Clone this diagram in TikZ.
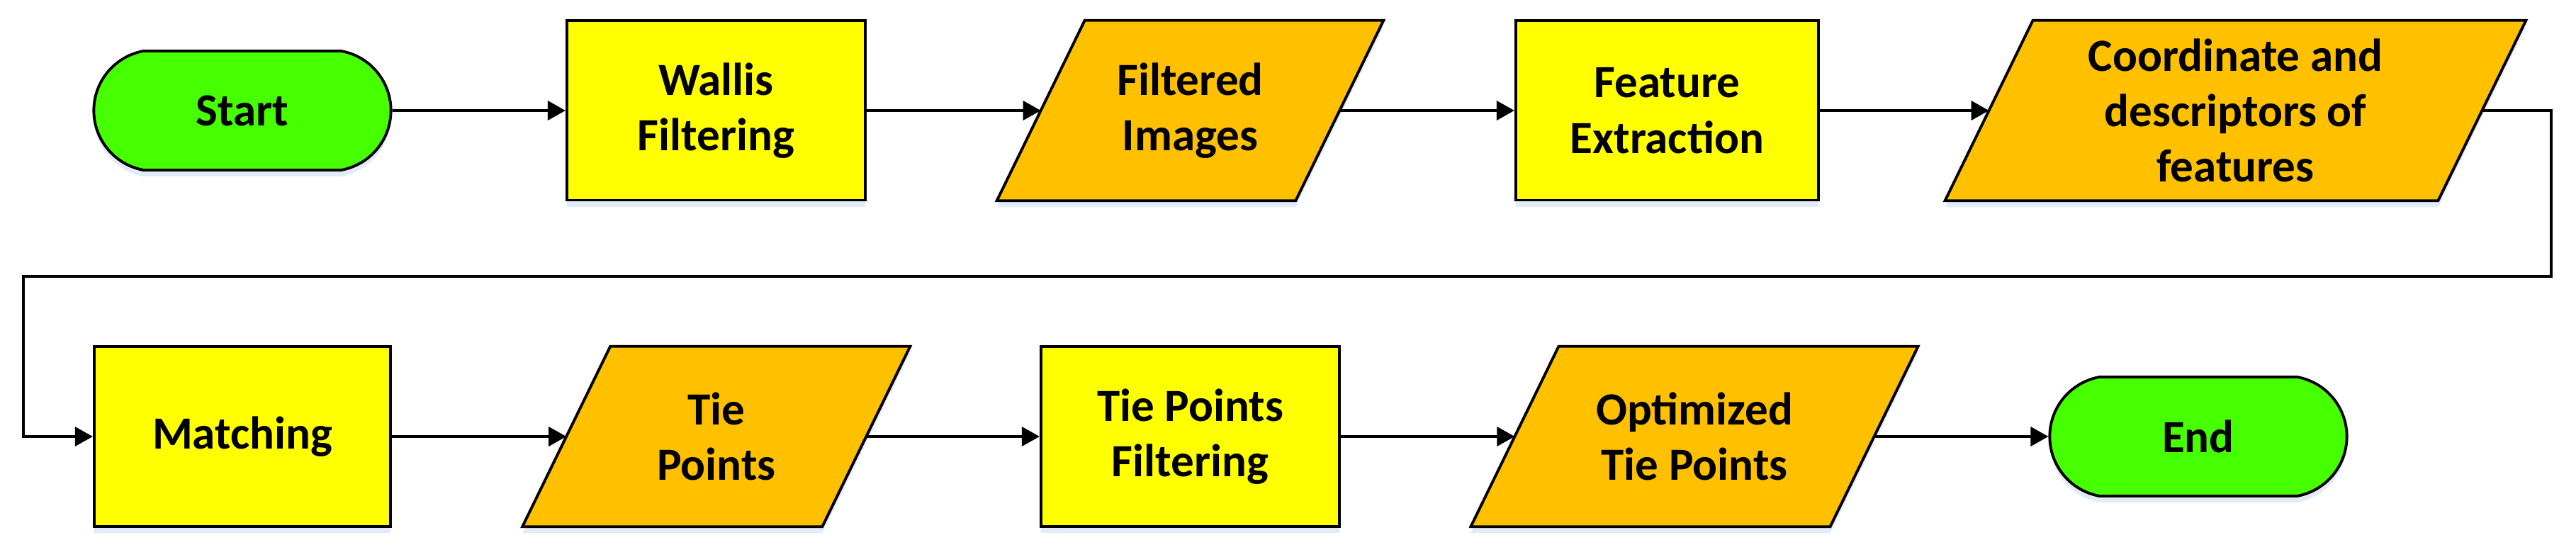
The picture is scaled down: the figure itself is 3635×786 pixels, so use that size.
\documentclass[tikz,border=0pt]{standalone}
\usepackage{fontspec}
\setmainfont{Carlito}
\usetikzlibrary{shapes.misc,arrows.meta,shadows,backgrounds}
\definecolor{termgreen}{RGB}{70,255,0}
\definecolor{procyellow}{RGB}{255,255,0}
\definecolor{dataorange}{RGB}{255,192,0}
\definecolor{shadowblue}{RGB}{170,200,235}
\tikzset{
  base/.style={inner sep=0pt, align=center, font=\bfseries\fontsize{18.5}{22.3}\selectfont},
  softshadow/.style={drop shadow={shadow xshift=0cm, shadow yshift=-0.09cm, fill=shadowblue, opacity=0.35}},
  terminal/.style={base, rounded rectangle, rounded rectangle arc length=160, draw=black, line width=1.1pt, fill=termgreen, minimum width=4.19cm, minimum height=1.68cm, softshadow},
  process/.style={base, rectangle, draw=black, line width=1.1pt, fill=procyellow, minimum height=2.53cm, softshadow},
  datanode/.style={base, rectangle, minimum height=2.53cm},
  parashape/.style={draw=black, line width=1.1pt, fill=dataorange, softshadow},
  conn/.style={line width=1.1pt, -{Triangle[length=0.25cm,width=0.27cm]}},
}
\newcommand\drawpara[1]{\path[parashape] ([xshift=0.62cm]#1.north west) -- ([xshift=0.62cm]#1.north east) -- ([xshift=-0.62cm]#1.south east) -- ([xshift=-0.62cm]#1.south west) -- cycle;}
\begin{document}
\begin{tikzpicture}[x=0.01cm,y=-0.01cm]
\useasboundingbox (0,0) rectangle (3635,786);
% row 1
\node[terminal] (start) at (342,156) {Start};
\node[process, minimum width=4.21cm] (wallis) at (1010.5,156) {Wallis\\Filtering};
\node[datanode, minimum width=4.20cm] (filt) at (1679.5,156) {Filtered\\Images};
\node[process, minimum width=4.27cm] (feat) at (2352.5,156) {Feature\\Extraction};
\node[datanode, minimum width=6.94cm] (coord) at (3154.5,156) {Coordinate and\\descriptors of\\features};
% row 2
\node[process, minimum width=4.18cm] (match) at (342,616) {Matching};
\node[datanode, minimum width=4.215cm] (tie) at (1010.75,616) {Tie\\Points};
\node[process, minimum width=4.21cm] (tpf) at (1679.5,616) {Tie Points\\Filtering};
\node[datanode, minimum width=5.055cm] (opt) at (2391,616) {Optimized\\Tie Points};
\node[terminal] (end) at (3102,616) {End};
\begin{scope}[on background layer]
\drawpara{filt}
\drawpara{coord}
\drawpara{tie}
\drawpara{opt}
\end{scope}
% connectors
\coordinate (rc) at (3600,390);
\coordinate (lc) at (33,390);
\draw[conn] (start.east) -- (wallis.west);
\draw[conn] (wallis.east) -- (filt.west);
\draw[conn] (filt.east) -- (feat.west);
\draw[conn] (feat.east) -- (coord.west);
\draw[conn, line width=0.9pt] (coord.east) -| (rc) -- (lc) |- (match.west);
\draw[conn] (match.east) -- (tie.west);
\draw[conn] (tie.east) -- (tpf.west);
\draw[conn] (tpf.east) -- (opt.west);
\draw[conn] (opt.east) -- (end.west);
\end{tikzpicture}
\end{document}
